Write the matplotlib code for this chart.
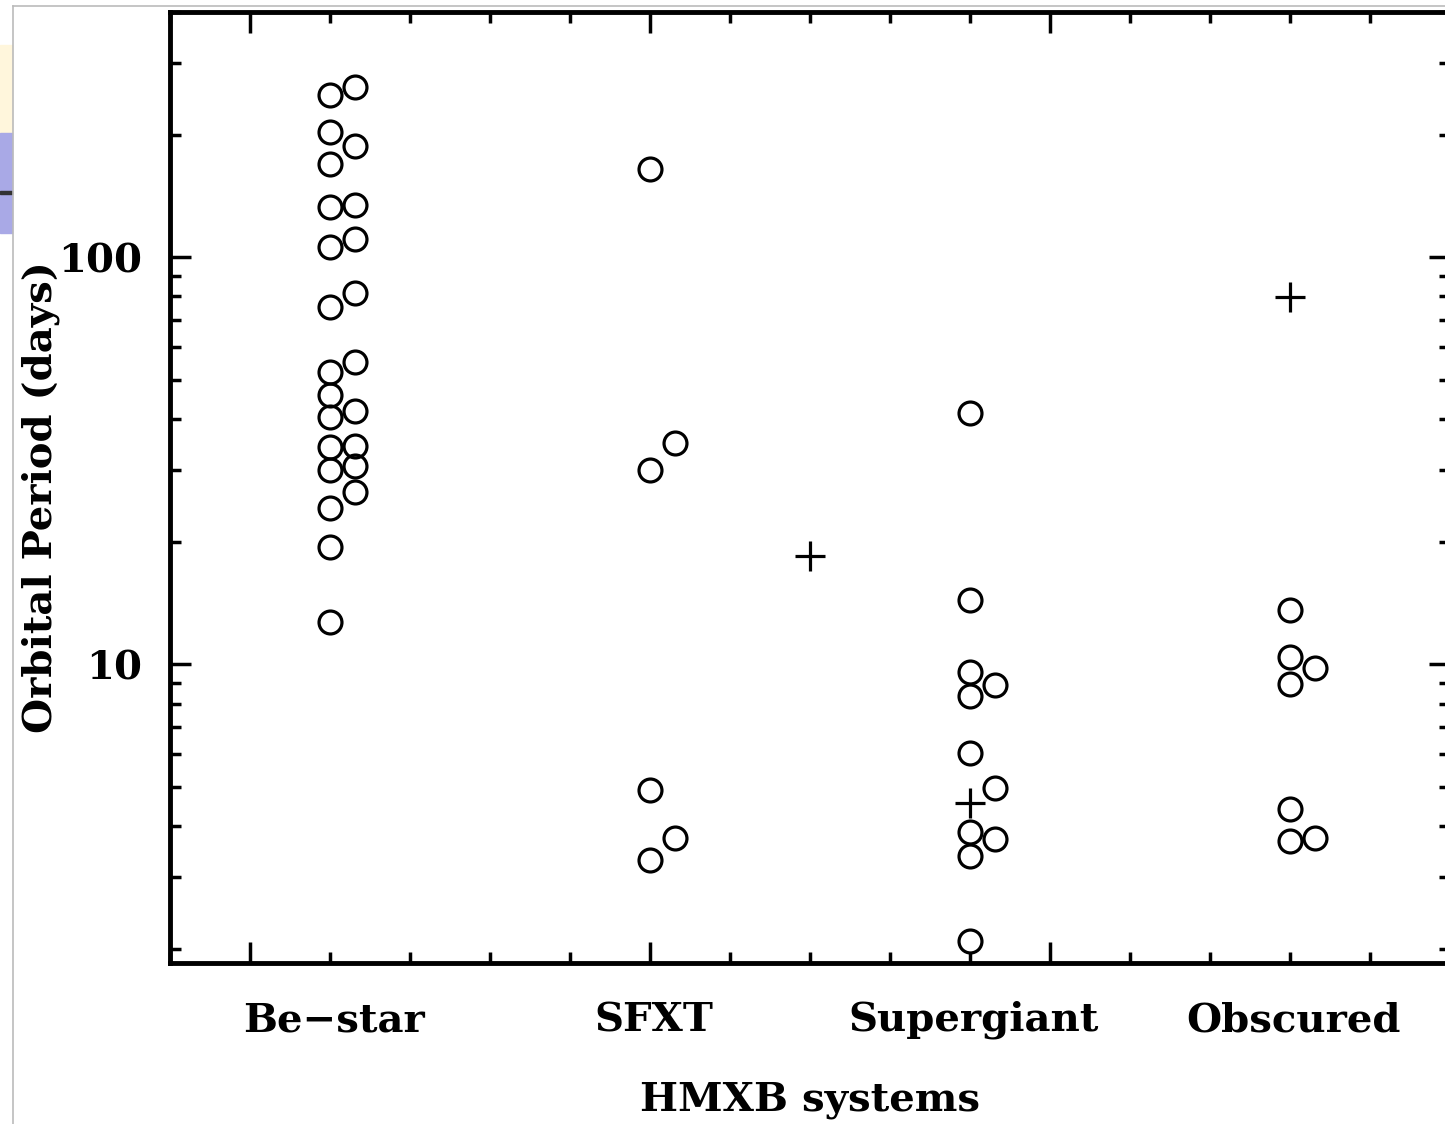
"""
Orbital period of HMXB systems by class (log scale scatter).
"""

import matplotlib.pyplot as plt
from matplotlib.patches import Rectangle
from matplotlib.ticker import FixedLocator, NullFormatter

# category positions on the x axis (one minor tick = 1 unit)
categories = ["Be\u2212star", "SFXT", "Supergiant", "Obscured"]
category_x = [4, 8, 12, 16]

# orbital periods (days), two columns per class
be_left = [250, 203, 169, 133, 106, 75.4, 52.2, 45.8, 40.4, 34.1, 30.0,
           24.2, 19.4, 12.7]
be_right = [262, 187, 134, 111, 81.6, 55.2, 41.8, 34.3, 30.7, 26.5]
sfxt_left = [165, 30.0, 4.90, 3.30]
sfxt_right = [34.9, 3.74]
sg_left = [41.4, 14.4, 9.56, 8.35, 6.04, 3.87, 3.38, 2.09]
sg_right = [8.88, 4.96, 3.72]
obs_left = [13.6, 10.4, 8.93, 4.40, 3.67]
obs_right = [9.77, 3.74]

# systems drawn as crosses: (x position, period)
cross_x = [10, 12, 16]
cross_period = [18.4, 4.55, 79.8]

FONT = "DejaVu Serif"
FS = 29


def main():
    fig = plt.figure(figsize=(14.45, 11.24), dpi=100)

    # slide leftovers at the left edge
    fig.patches.append(Rectangle((0, 1 - 133 / 1124), 12 / 1445, 88 / 1124,
                                 transform=fig.transFigure,
                                 color="#fff6dc", zorder=0))
    fig.patches.append(Rectangle((0, 1 - 233 / 1124), 12 / 1445, 100 / 1124,
                                 transform=fig.transFigure,
                                 color="#a9a9e6", zorder=0))
    fig.patches.append(Rectangle((0, 1 - 194 / 1124), 12 / 1445, 3 / 1124,
                                 transform=fig.transFigure,
                                 color="#333333", zorder=0))
    fig.add_artist(plt.Line2D([12.5 / 1445, 12.5 / 1445], [0, 1 - 6 / 1124],
                              transform=fig.transFigure, color="#bbbbbb",
                              lw=1.2))
    fig.add_artist(plt.Line2D([12.5 / 1445, 1], [1 - 6 / 1124, 1 - 6 / 1124],
                              transform=fig.transFigure, color="#bbbbbb",
                              lw=1.2))

    ax = fig.add_axes([170 / 1445, 161 / 1124, 1280 / 1445, 951 / 1124])
    ax.set_yscale("log")
    ax.set_xlim(2, 18)
    ax.set_ylim(1.843, 400)

    circ = dict(marker="o", ms=16.5, mfc="none", mec="black", mew=2.3,
                ls="none")
    off = 0.31
    groups = [(be_left, be_right), (sfxt_left, sfxt_right),
              (sg_left, sg_right), (obs_left, obs_right)]
    for xc, (left, right) in zip(category_x, groups):
        ax.plot([xc] * len(left), left, **circ)
        ax.plot([xc + off] * len(right), right, **circ)

    ax.plot(cross_x, cross_period, marker="+", ms=21, mew=2.3,
            color="black", ls="none")

    # axes styling
    for sp in ax.spines.values():
        sp.set_linewidth(3.5)
    ax.xaxis.set_major_locator(FixedLocator([3, 8, 13, 18]))
    ax.xaxis.set_minor_locator(FixedLocator(range(2, 19)))
    ax.xaxis.set_major_formatter(NullFormatter())
    ax.xaxis.set_minor_formatter(NullFormatter())
    ax.tick_params(which="both", direction="in", top=True, right=True,
                   width=2.5)
    ax.tick_params(which="major", length=15)
    ax.tick_params(which="minor", length=8)
    ax.tick_params(axis="y", which="major", pad=20)
    ax.yaxis.set_minor_formatter(NullFormatter())
    ax.set_yticks([10, 100])
    ax.set_yticklabels(["10", "100"], fontfamily=FONT, fontsize=FS,
                       fontweight="bold")

    trans = ax.get_xaxis_transform()
    for xc, name in zip(category_x, categories):
        ax.text(xc + 0.05, -0.06, name, transform=trans, ha="center",
                va="center", fontsize=FS, fontweight="bold", family=FONT)

    ax.text(0.5, -0.144, "HMXB systems", transform=ax.transAxes,
            ha="center", va="center", fontsize=FS, fontweight="bold",
            family=FONT)
    ax.text(-0.101, 0.49, "Orbital Period (days)", transform=ax.transAxes,
            ha="center", va="center", rotation=90, fontsize=FS,
            fontweight="bold", family=FONT)

    plt.savefig("out.png", dpi=100)


if __name__ == '__main__':
    main()
